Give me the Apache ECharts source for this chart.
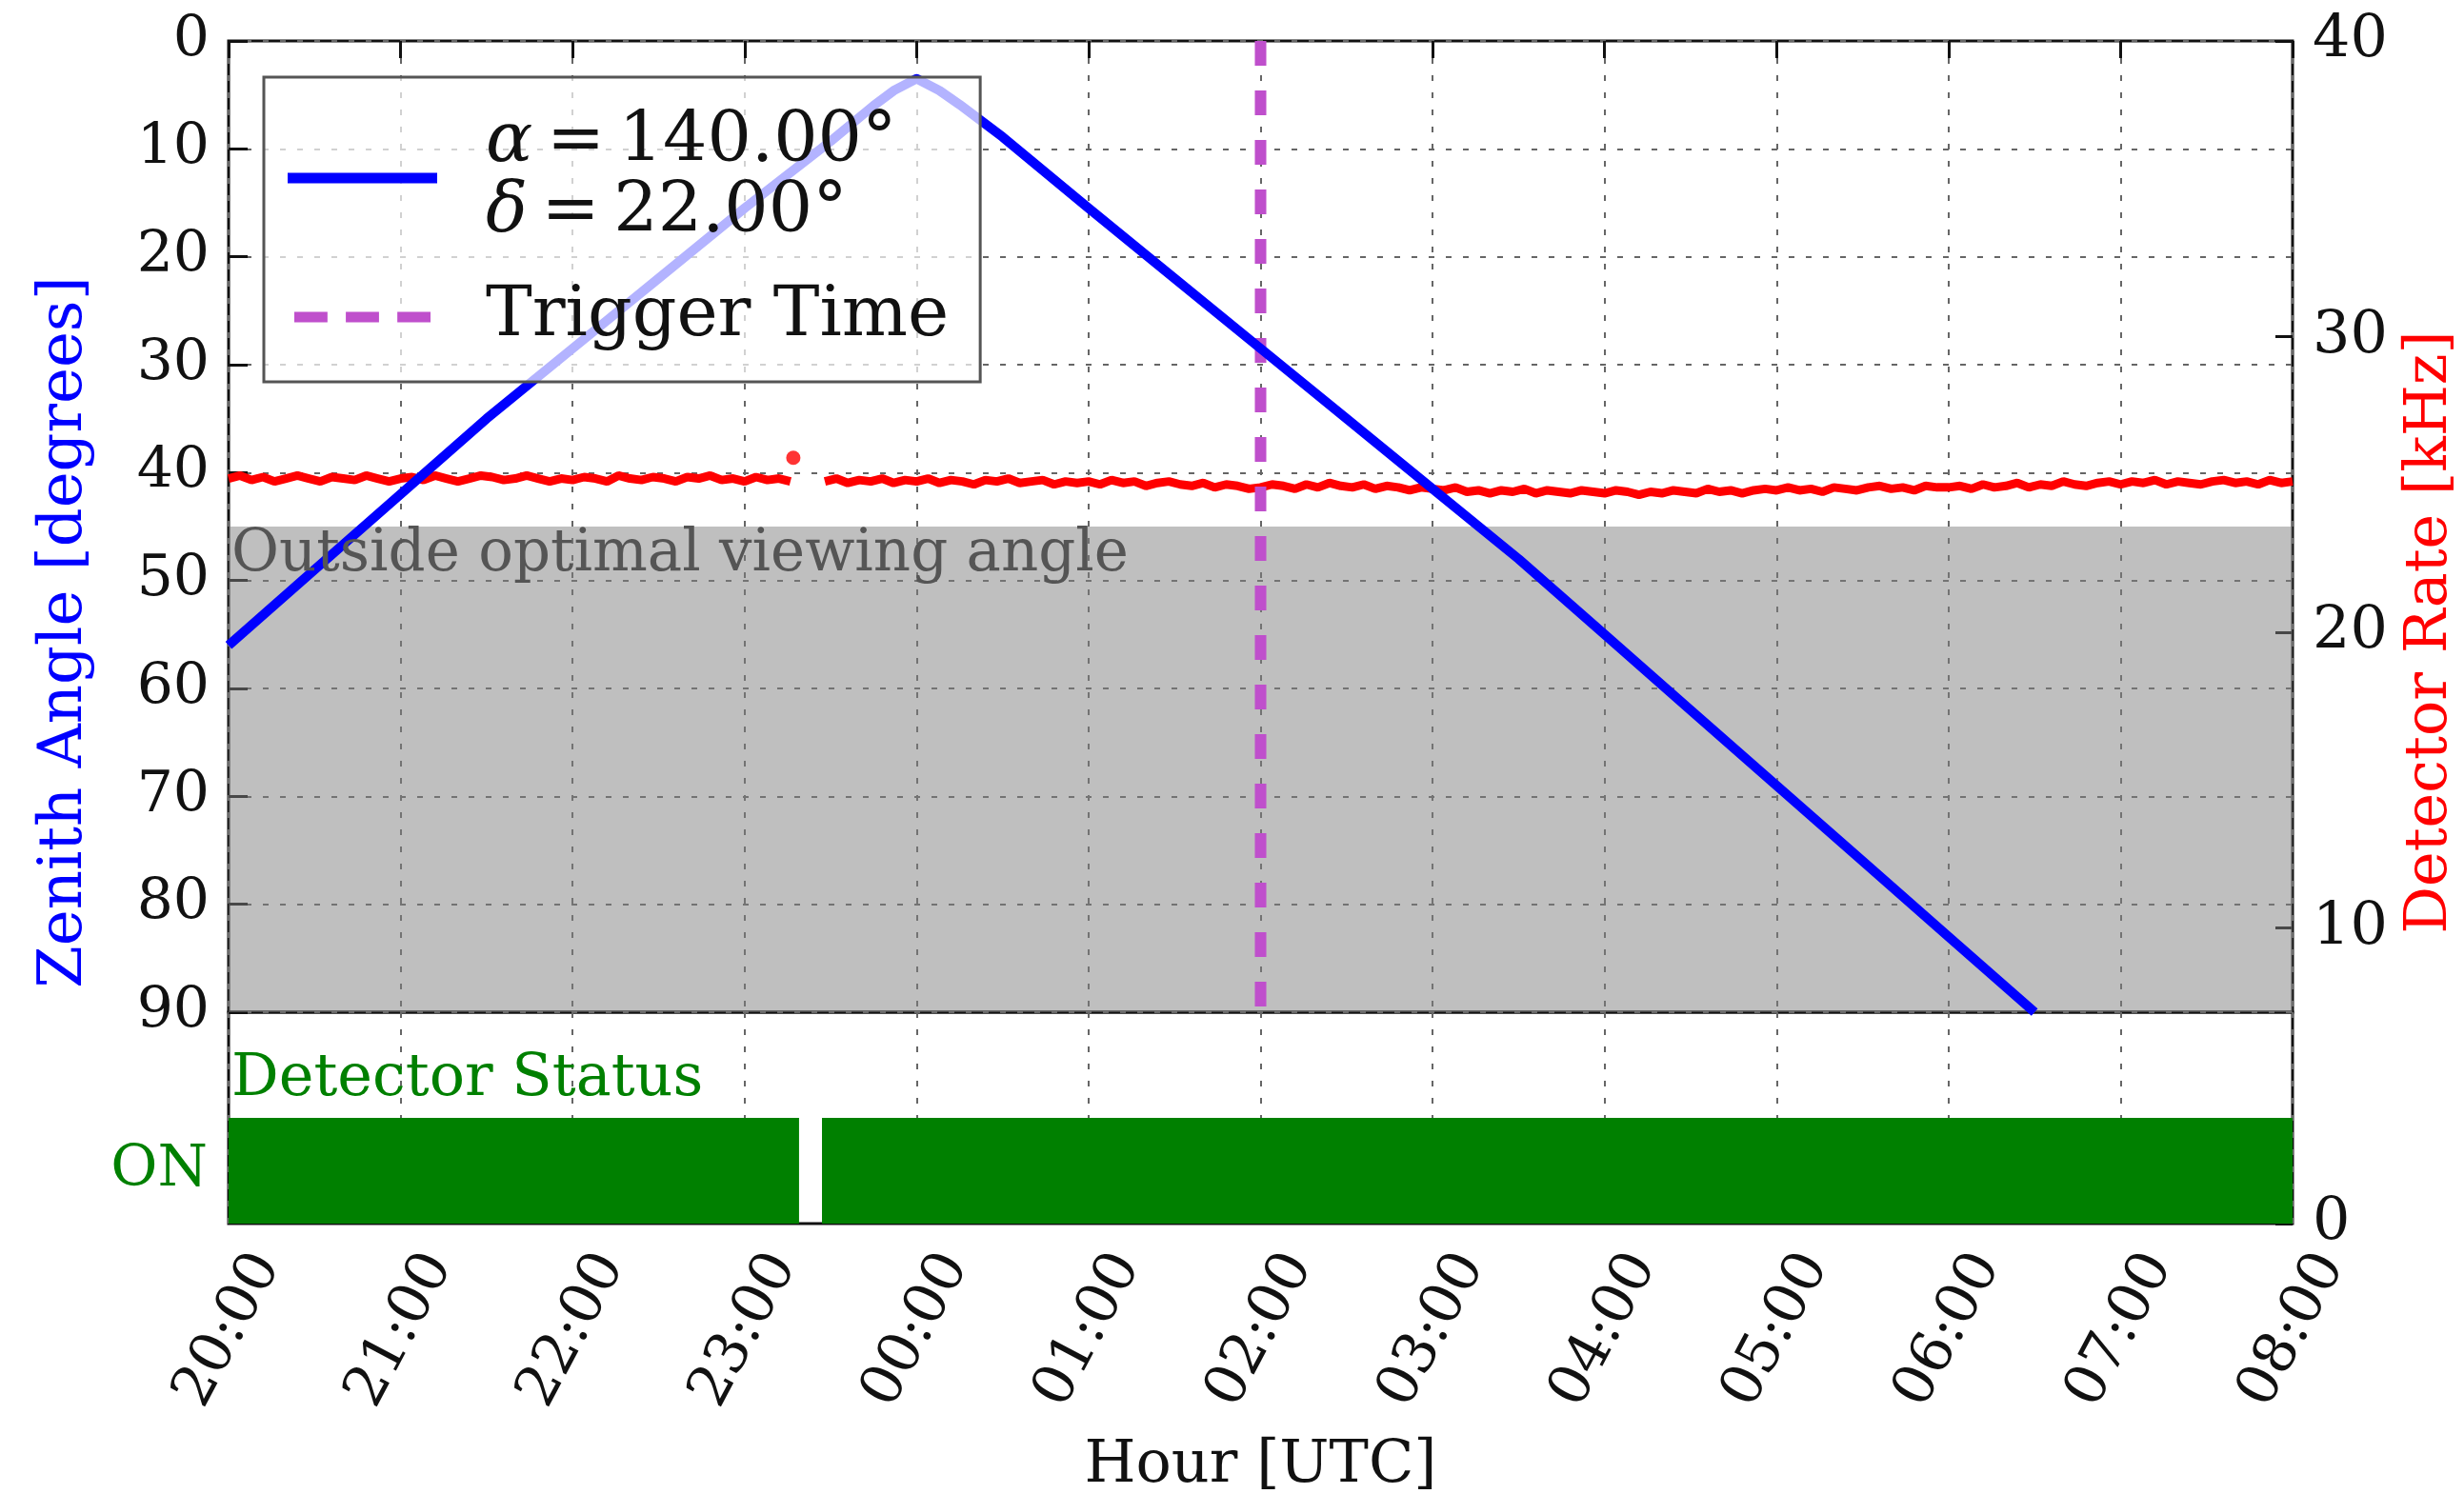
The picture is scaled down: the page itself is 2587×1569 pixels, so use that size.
<!DOCTYPE html>
<html><head><meta charset="utf-8">
<script src="https://cdn.jsdelivr.net/npm/echarts@6/dist/echarts.min.js"></script>
<style>html,body{margin:0;padding:0;background:#fff}#c{width:2587px;height:1569px}</style>
</head><body><div id="c"></div>
<script>
// ---- data ----
const hourLabels = ['20:00','21:00','22:00','23:00','00:00','01:00','02:00','03:00','04:00','05:00','06:00','07:00','08:00'];
const zenithTicks = [0,10,20,30,40,50,60,70,80,90];
const rateTicks = [0,10,20,30,40];
// zenith angle of source (hours since 20:00 expressed as 20..32)
const zenithTimes  = [20, 20.5, 21, 21.5, 22, 22.5, 23, 23.5, 23.75, 23.867, 24, 24.133, 24.25, 24.5, 25, 25.5, 26, 26.5, 27, 27.5, 28, 28.5, 29, 29.5, 30, 30.5];
const zenithValues = [56, 49, 42, 35, 28.5, 22, 15.5, 9.3, 6.0, 4.6, 3.5, 4.6, 5.9, 8.9, 15.5, 22, 28.5, 35, 41.5, 48, 55, 62, 69, 76, 83, 90];
const triggerHour = 26.0;           // 02:00 UTC
const zenithLimit = 45;
// detector rate [kHz], 4-minute samples
const rateStepMin = 4;
const rateSeg1Start = 20;           // 20:00
const rateSeg1 = [25.2,25.3,25.15,25.25,25.1,25.2,25.3,25.2,25.1,25.25,25.2,25.15,25.3,25.2,25.1,
  25.2,25.25,25.15,25.3,25.2,25.1,25.2,25.3,25.25,25.15,25.2,25.3,25.2,25.1,25.2,
  25.15,25.25,25.2,25.1,25.3,25.2,25.15,25.25,25.2,25.1,25.25,25.2,25.3,25.15,25.2,
  25.1,25.25,25.15,25.2,25.1];
const rateSeg2Start = 23 + 28/60;   // 23:28
const rateSeg2 = [25.1,25.2,25.05,25.15,25.1,25.2,25.05,25.15,
  25.1,25.2,25.05,25.15,25.1,25.0,25.15,25.1,25.2,25.05,25.1,25.15,25.0,25.1,25.05,
  25.1,25.0,25.15,25.05,25.1,24.95,25.05,25.1,25.0,24.95,25.05,24.9,25.0,24.95,24.85,
  24.9,25.0,24.95,24.85,25.0,24.9,25.05,24.95,24.9,25.0,24.85,24.95,24.9,24.8,24.9,
  24.85,24.8,24.9,24.75,24.8,24.7,24.8,24.75,24.85,24.7,24.8,24.75,24.7,24.8,24.75,
  24.7,24.8,24.75,24.65,24.75,24.7,24.8,24.75,24.7,24.85,24.75,24.8,24.7,24.8,24.85,
  24.8,24.9,24.8,24.85,24.75,24.9,24.85,24.8,24.9,24.95,24.85,24.9,24.8,24.95,24.9,
  24.9,24.95,24.85,25.0,24.9,24.95,25.05,24.9,25.0,24.95,25.1,25.0,24.95,25.05,25.1,
  25.0,25.1,25.05,25.15,25.0,25.1,25.05,25.0,25.1,25.15,25.05,25.1,25.0,25.15,25.05,
  25.1];
const rateSpike = [23 + 17/60, 25.9];
// detector status ON intervals [start, end]
const statusOn = [[20, 23 + 19/60], [23 + 27/60, 32]];
const statusLevel = 0.5;

// ---- build ----
const FONT = 'DejaVu Serif';
const zenithData = zenithTimes.map((t, i) => [t, zenithValues[i]]);
const rateData = [];
rateSeg1.forEach((v, i) => rateData.push([rateSeg1Start + i * rateStepMin / 60, v]));
rateData.push([23 + 22/60, null]);
rateSeg2.forEach((v, i) => rateData.push([rateSeg2Start + i * rateStepMin / 60, v]));
const statusData = statusOn.map(s => [s[0], s[1], 0, statusLevel]);

const gridSplit = {show: true, lineStyle: {color: '#666', width: 2, type: [6, 12]}};
const L = 240, W = 2167;
const TRIG = '#bf4fcc';
const chart = echarts.init(document.getElementById('c'));
chart.setOption({
  animation: false,
  backgroundColor: '#fff',
  grid: [
    {left: L, top: 43, width: W, height: 1020, show: true, borderColor: '#111', borderWidth: 3, backgroundColor: 'transparent', outerBoundsMode: 'none', containLabel: false},
    {left: L, top: 1063, width: W, height: 222, show: true, borderColor: '#111', borderWidth: 3, backgroundColor: 'transparent', outerBoundsMode: 'none', containLabel: false},
    {left: L, top: 43, width: W, height: 1242, show: false, outerBoundsMode: 'none', containLabel: false}
  ],
  xAxis: [
    {gridIndex: 0, type: 'value', min: 20, max: 32, interval: 1, position: 'top',
     axisLine: {show: false}, axisTick: {show: true, inside: true, length: 18, lineStyle: {color: '#111', width: 3}},
     axisLabel: {show: false}, splitLine: gridSplit},
    {gridIndex: 1, type: 'value', min: 20, max: 32, interval: 1, position: 'bottom',
     axisLine: {show: false}, axisTick: {show: false},
     axisLabel: {rotate: 62, align: 'center', verticalAlign: 'middle', margin: 112,
       fontFamily: FONT, fontSize: 60, color: '#111',
       formatter: v => hourLabels[Math.round(v - 20)]},
     splitLine: gridSplit,
     name: 'Hour [UTC]', nameLocation: 'middle', nameGap: 224,
     nameTextStyle: {fontFamily: FONT, fontSize: 62, color: '#111'}},
    {gridIndex: 2, type: 'value', min: 20, max: 32, show: false}
  ],
  yAxis: [
    {gridIndex: 0, type: 'value', inverse: true, min: 0, max: 90, interval: 10, position: 'left',
     axisLine: {show: false}, axisTick: {show: true, inside: true, length: 20, lineStyle: {color: '#111', width: 3}},
     axisLabel: {fontFamily: FONT, fontSize: 60, color: '#111', margin: 20,
       formatter: v => zenithTicks.includes(v) ? String(v) : ''},
     splitLine: gridSplit},
    {gridIndex: 1, type: 'value', min: 0, max: 1, interval: 0.25, position: 'left',
     axisLine: {show: false}, axisTick: {show: false}, splitLine: {show: false},
     axisLabel: {fontFamily: FONT, fontSize: 60, color: '#008000', margin: 22,
       formatter: v => (Math.abs(v - 0.25) < 1e-6 ? 'ON' : '')}},
    {gridIndex: 2, type: 'value', min: 0, max: 40, interval: 10, position: 'right',
     axisLine: {show: false}, axisTick: {show: true, inside: true, length: 18, lineStyle: {color: '#111', width: 3}},
     axisLabel: {fontFamily: FONT, fontSize: 62, color: '#111', margin: 21,
       formatter: v => rateTicks.includes(v) ? String(v) : ''},
     splitLine: {show: false},
     name: 'Detector Rate [kHz]', nameLocation: 'middle', nameRotate: 90, nameGap: 114,
     nameTextStyle: {fontFamily: FONT, fontSize: 62, color: '#ff0000'}},
    {gridIndex: 2, type: 'value', min: 0, max: 1, position: 'left',
     axisLine: {show: false}, axisTick: {show: false}, axisLabel: {show: false}, splitLine: {show: false},
     name: 'Zenith Angle [degrees]', nameLocation: 'middle', nameRotate: 90, nameGap: 140,
     nameTextStyle: {fontFamily: FONT, fontSize: 64, color: '#0000ff'}}
  ],
  legend: {
    orient: 'vertical', left: 277, top: 81, selectedMode: false, z: 10,
    padding: [32, 33, 31, 25], itemGap: 35, itemWidth: 157, itemHeight: 11,
    backgroundColor: 'rgba(255,255,255,0.7)', borderColor: '#555', borderWidth: 3, borderRadius: 0,
    data: [
      {name: 'zenith', icon: 'rect', itemStyle: {color: '#0000ff'}},
      {name: 'Trigger Time', icon: 'path://M0,0h38v12h-38z M59,0h38v12h-38z M118,0h38v12h-38z', itemStyle: {color: TRIG}}
    ],
    formatter: n => n === 'zenith' ? '{m|α}\u2009=\u2009140.00°\n{m|δ}\u2009=\u200922.00°' : n,
    textStyle: {fontFamily: FONT, fontSize: 73, color: '#111', lineHeight: 74, padding: [0, 0, 0, 46],
      rich: {m: {fontFamily: FONT, fontStyle: 'italic', fontSize: 73, lineHeight: 74}}}
  },
  series: [
    {name: 'region', type: 'line', xAxisIndex: 0, yAxisIndex: 0, data: [], silent: true, z: 1,
     markArea: {silent: true,
       itemStyle: {color: 'rgba(128,128,128,0.5)'},
       label: {show: false},
       data: [[{xAxis: 20, yAxis: zenithLimit}, {xAxis: 32, yAxis: 90}]]}},
    {name: 'rate', type: 'line', xAxisIndex: 2, yAxisIndex: 2, data: rateData, symbol: 'none',
     connectNulls: false, z: 3, lineStyle: {color: '#ff0000', width: 9}, itemStyle: {color: '#ff0000'}},
    {name: 'spike', type: 'scatter', xAxisIndex: 2, yAxisIndex: 2, data: [rateSpike], symbolSize: 15, z: 3,
     itemStyle: {color: '#ff0000'}},
    {name: 'Trigger Time', type: 'line', xAxisIndex: 0, yAxisIndex: 0, data: [[triggerHour, 0], [triggerHour, 90]],
     symbol: 'none', z: 3, lineStyle: {color: TRIG, width: 12, type: [26, 26]}, itemStyle: {color: TRIG}},
    {name: 'zenith', type: 'line', xAxisIndex: 0, yAxisIndex: 0, data: zenithData, symbol: 'none', z: 3,
     lineStyle: {color: '#0000ff', width: 10, join: 'round'}, itemStyle: {color: '#0000ff'}},
    {name: 'status', type: 'custom', xAxisIndex: 1, yAxisIndex: 1, data: statusData, z: 2,
     encode: {x: [0, 1], y: [2, 3]},
     renderItem: (params, api) => {
       const a = api.coord([api.value(0), api.value(3)]);
       const b = api.coord([api.value(1), api.value(2)]);
       return {type: 'rect', shape: {x: a[0], y: a[1], width: b[0] - a[0], height: b[1] - a[1]}, style: {fill: '#008000'}};
     }}
  ],
  graphic: [
    {type: 'text', left: 243, top: 553, z: 10,
     style: {text: 'Outside optimal viewing angle', fill: '#555', font: '61px "DejaVu Serif"'}},
    {type: 'text', left: 243, top: 1103, z: 10,
     style: {text: 'Detector Status', fill: '#008000', font: '62px "DejaVu Serif"'}}
  ]
});
</script></body></html>
